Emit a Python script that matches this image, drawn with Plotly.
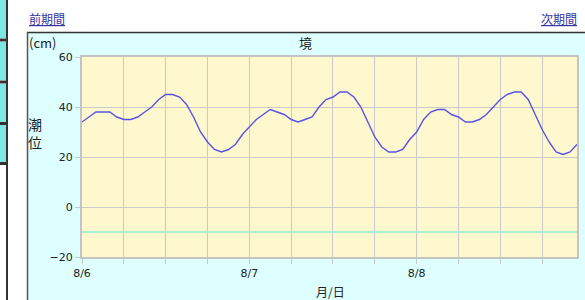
import plotly.graph_objects as go

# ---- data ----
hours = list(range(72))  # hourly from 8/6 00:00 to 8/8 23:00
tide_cm = [34, 36, 38, 38, 38, 36, 35, 35, 36, 38, 40, 43, 45, 45, 44, 41, 36, 30, 26, 23, 22, 23, 25, 29,
           32, 35, 37, 39, 38, 37, 35, 34, 35, 36, 40, 43, 44, 46, 46, 44, 40, 34, 28, 24, 22, 22, 23, 27,
           30, 35, 38, 39, 39, 37, 36, 34, 34, 35, 37, 40, 43, 45, 46, 46, 43, 37, 31, 26, 22, 21, 22, 25]
ref_x = [0, 71]
ref_level = [-10, -10]
tick_hours = [0, 6, 12, 18, 24, 30, 36, 42, 48, 54, 60, 66]
tick_labels = ["8/6", "", "", "", "8/7", "", "", "", "8/8", "", "", ""]
y_ticks = [-20, 0, 20, 40, 60]

W, H = 585, 300
def px(x): return x / W
def py(y): return 1 - y / H

fig = go.Figure()
fig.add_trace(go.Scatter(x=ref_x, y=ref_level, mode="lines",
                         line=dict(color="#8EEFD6", width=1.5), hoverinfo="skip"))
fig.add_trace(go.Scatter(x=hours, y=tide_cm, mode="lines",
                         line=dict(color="#5454E6", width=1.4)))

font_jp = "Noto Sans CJK JP, DejaVu Sans, sans-serif"
shapes = [
    # white areas outside the cyan frame
    dict(type="rect", xref="paper", yref="paper", x0=0, x1=1.0, y0=py(32), y1=1.0,
         fillcolor="white", line=dict(width=0), layer="below"),
    dict(type="rect", xref="paper", yref="paper", x0=0, x1=px(27), y0=0, y1=1.0,
         fillcolor="white", line=dict(width=0), layer="below"),
    dict(type="line", xref="paper", yref="paper", x0=px(27), x1=1.0, y0=py(32.5), y1=py(32.5),
         line=dict(color="#333333", width=1.5)),
    dict(type="line", xref="paper", yref="paper", x0=px(27.5), x1=px(27.5), y0=0, y1=py(32),
         line=dict(color="#555555", width=1.5)),
    # left strip
    dict(type="line", xref="paper", yref="paper", x0=px(7), x1=px(7), y0=0, y1=1,
         line=dict(color="#333333", width=2)),
]
for y0, y1 in [(0, 38), (42, 80), (84, 122), (125, 162)]:
    shapes.append(dict(type="rect", xref="paper", yref="paper", x0=0, x1=px(6), y0=py(y1), y1=py(y0),
                       fillcolor="#7FE6E6", line=dict(width=0)))
for y in [40, 82, 123.5, 163.5]:
    shapes.append(dict(type="line", xref="paper", yref="paper", x0=0, x1=px(7), y0=py(y), y1=py(y),
                       line=dict(color="#333333", width=3)))

annotations = [
    dict(text="<u>前期間</u>", x=px(27), y=py(18), xanchor="left", yanchor="middle",
         font=dict(size=12, color="#3535A0", family=font_jp)),
    dict(text="<u>次期間</u>", x=px(579), y=py(18), xanchor="right", yanchor="middle",
         font=dict(size=12, color="#3535A0", family=font_jp)),
    dict(text="境", x=px(305), y=py(42), xanchor="center", yanchor="middle",
         font=dict(size=13, color="#222222", family=font_jp)),
    dict(text="(cm)", x=px(27), y=py(42), xanchor="left", yanchor="middle",
         font=dict(size=13, color="#222222", family=font_jp)),
    dict(text="潮<br>位", x=px(26), y=py(133), xanchor="left", yanchor="middle",
         font=dict(size=14, color="#222222", family=font_jp)),
    dict(text="月/日", x=px(330), y=py(291), xanchor="center", yanchor="middle",
         font=dict(size=12, color="#222222", family=font_jp)),
]
for a in annotations:
    a.update(xref="paper", yref="paper", showarrow=False)

fig.update_layout(
    width=W, height=H, margin=dict(l=0, r=0, t=0, b=0),
    paper_bgcolor="#DDFFFF", plot_bgcolor="#FFF8CF",
    showlegend=False, shapes=shapes, annotations=annotations,
    xaxis=dict(domain=[px(82), px(577)], range=[0, 71], tickvals=tick_hours, ticktext=tick_labels,
               showgrid=True, gridcolor="#CACACA", gridwidth=1, ticks="outside", ticklen=5,
               tickcolor="#C8C8C8", showline=True, linecolor="#C4C4C4", linewidth=2, mirror=True,
               tickfont=dict(size=11, color="#222222", family="DejaVu Sans"), zeroline=False,
               fixedrange=True, automargin=False),
    yaxis=dict(domain=[1 - 257 / H, 1 - 57 / H], range=[-20, 60], tickvals=y_ticks,
               showgrid=True, gridcolor="#CACACA", gridwidth=1, ticks="outside", ticklen=5,
               tickcolor="#C8C8C8", showline=True, linecolor="#C4C4C4", linewidth=2, mirror=True,
               tickfont=dict(size=11, color="#222222", family="DejaVu Sans"), zeroline=False,
               fixedrange=True, automargin=False),
)
fig.write_html("out.html", config={"displayModeBar": False},
               post_script="document.body.style.margin='0';document.body.style.overflow='hidden';")
